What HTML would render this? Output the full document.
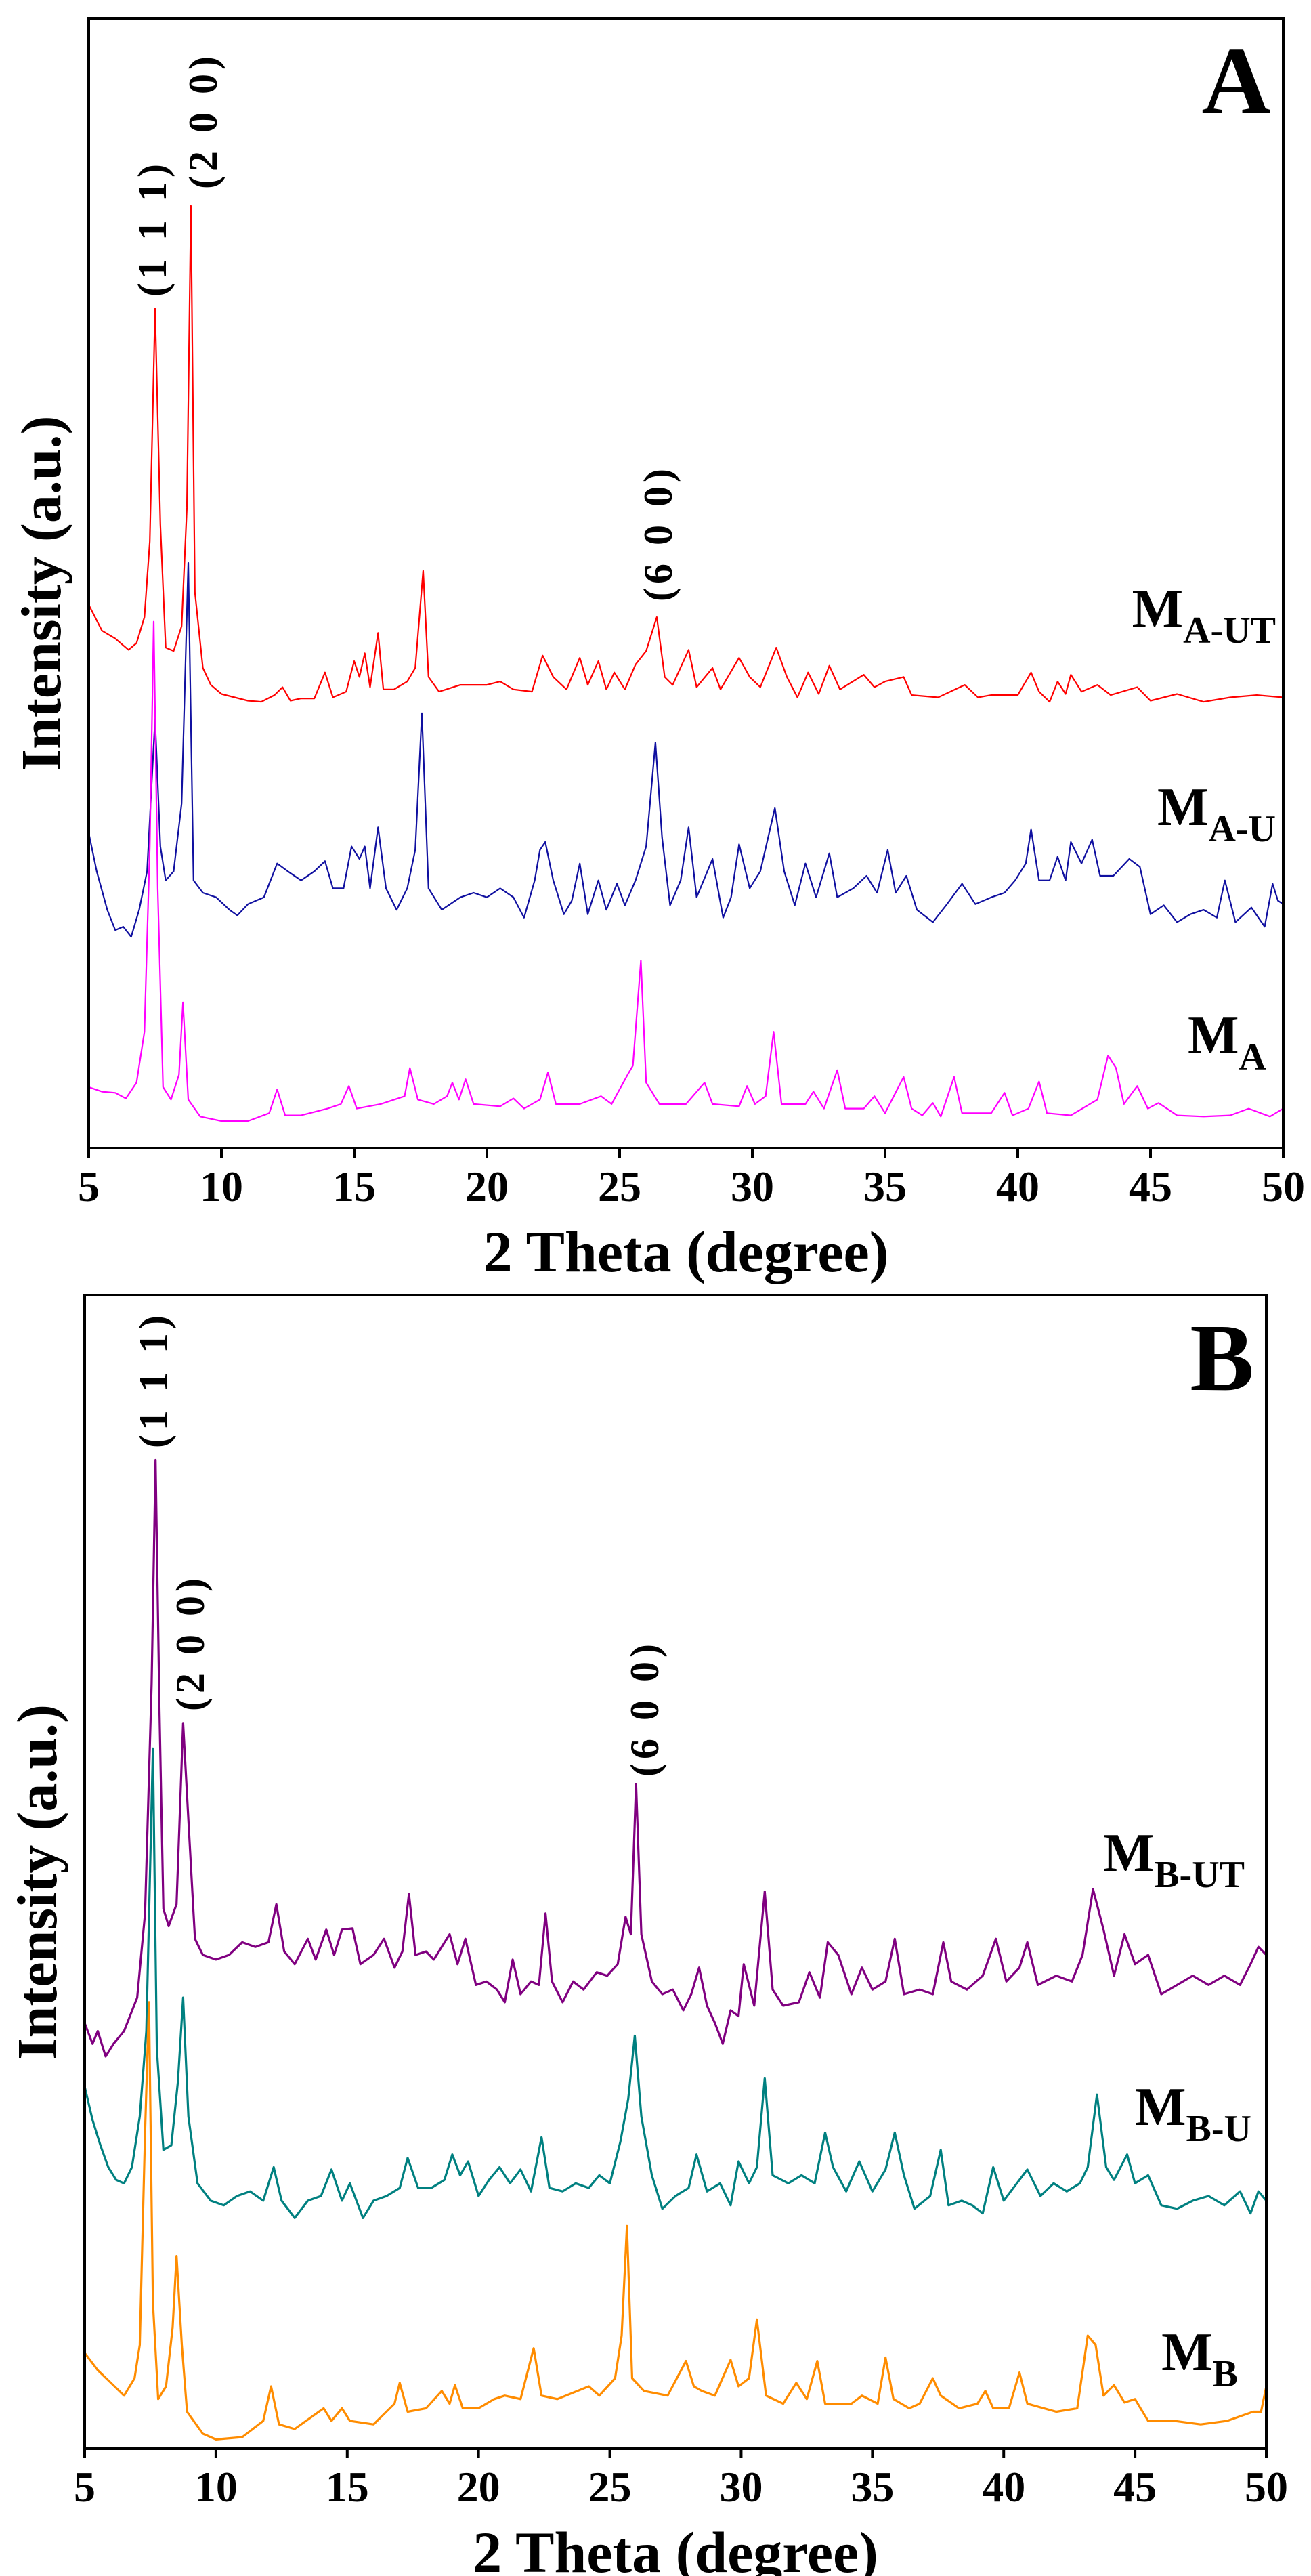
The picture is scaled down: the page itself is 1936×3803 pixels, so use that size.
<!DOCTYPE html>
<html><head><meta charset="utf-8"><style>
html,body{margin:0;padding:0;background:#fff}
svg{display:block}
text{font-family:"Liberation Serif",serif;font-weight:bold;fill:#000}
</style></head><body>
<svg id="chart" width="1936" height="3803" viewBox="0 0 1936 3803"></svg>
<script>
// ---- Data (2θ, relative intensity 0-100 of plot height) ----
const xTicks=[5,10,15,20,25,30,35,40,45,50];
const maUT_x=[5,5.5,6,6.5,6.8,7.1,7.3,7.5,7.7,7.9,8.2,8.5,8.7,8.85,9,9.3,9.6,10,10.5,11,11.5,12,12.3,12.6,13,13.5,13.9,14.2,14.7,15,15.2,15.4,15.6,15.9,16.1,16.5,17,17.3,17.6,17.8,18.2,19,20,20.5,21,21.7,22.1,22.5,23,23.5,23.8,24.2,24.5,24.8,25.2,25.6,26,26.4,26.7,27,27.6,27.9,28.5,28.8,29.5,29.9,30.3,30.9,31.3,31.7,32.1,32.5,32.9,33.3,34.2,34.6,35,35.7,36,37,38,38.5,39,40,40.5,40.8,41.2,41.5,41.8,42,42.4,43,43.5,44.5,45,46,47,48,49,50];
const maUT_y=[48.1,45.8,45.1,44.1,44.7,47,53.7,74.3,55.2,44.3,44,46.2,56.7,83.4,49.2,42.5,41,40.2,39.9,39.6,39.5,40.1,40.8,39.6,39.8,39.8,42.1,39.9,40.4,43.1,41.7,43.8,40.8,45.6,40.6,40.6,41.3,42.5,51.1,41.7,40.4,41,41,41.3,40.6,40.4,43.6,41.7,40.6,43.4,41,43.1,40.6,42.1,40.6,42.8,44,47,41.7,41,44.1,40.8,42.5,40.6,43.4,41.7,40.8,44.3,41.7,39.9,42.1,40.2,42.7,40.6,41.9,40.8,41.3,41.7,40.1,39.9,41,39.9,40.1,40.1,42.1,40.4,39.5,41.3,40.2,41.9,40.4,41,40.1,40.8,39.6,40.2,39.5,39.9,40.1,39.9];
const maU_x=[5,5.3,5.7,6,6.3,6.6,6.9,7.2,7.5,7.7,7.9,8.2,8.5,8.75,8.95,9.3,9.8,10.3,10.6,11,11.6,12.1,12.5,13,13.5,13.9,14.2,14.6,14.9,15.2,15.4,15.6,15.9,16.2,16.6,17,17.3,17.55,17.8,18.3,19,19.5,20,20.5,21,21.4,21.8,22,22.2,22.5,22.9,23.2,23.5,23.8,24.2,24.5,24.9,25.2,25.6,26,26.35,26.6,26.9,27.3,27.6,27.9,28.5,28.9,29.2,29.5,29.9,30.3,30.85,31.2,31.6,32,32.4,32.9,33.2,33.8,34.3,34.7,35.1,35.4,35.8,36.2,36.8,37.3,37.9,38.4,39,39.5,39.9,40.3,40.5,40.8,41.2,41.5,41.8,42,42.4,42.8,43.1,43.6,44.2,44.6,45,45.5,46,46.5,47,47.5,47.8,48.2,48.8,49.3,49.6,49.8,50];
const maU_y=[27.9,24.5,21.1,19.3,19.6,18.7,21.1,24.5,38,26.7,23.7,24.5,30.5,51.8,23.7,22.6,22.2,21.1,20.6,21.6,22.2,25.2,24.5,23.7,24.5,25.4,23,23,26.7,25.6,26.7,23,28.4,23,21.1,23,26.4,38.5,23,21.1,22.2,22.6,22.2,23,22.2,20.4,23.7,26.4,27.1,23.7,20.7,21.9,25.2,20.7,23.7,21.1,23.4,21.5,23.7,26.7,35.9,27.5,21.5,23.7,28.4,22.2,25.6,20.4,22.2,26.9,23,24.5,30.1,24.5,21.5,25.2,22.2,26.1,22.2,23,24.1,22.6,26.4,22.6,24.1,21.1,20,21.5,23.4,21.6,22.2,22.6,23.7,25.2,28.2,23.7,23.7,25.8,23.7,27.1,25.2,27.3,24.1,24.1,25.6,24.9,20.7,21.5,20,20.7,21.1,20.4,23.7,20,21.3,19.6,23.4,21.9,21.6];
const ma_x=[5,5.5,6,6.4,6.8,7.1,7.3,7.45,7.6,7.8,8.1,8.4,8.55,8.75,9.2,10,11,11.8,12.1,12.4,13,14,14.5,14.8,15.1,16,16.9,17.1,17.4,18,18.5,18.7,18.95,19.2,19.5,20.5,21,21.4,22,22.3,22.6,23.5,24.3,24.7,25.3,25.5,25.8,26,26.5,27.5,28.2,28.5,29.5,29.8,30.1,30.5,30.8,31.1,32,32.3,32.7,33.2,33.5,34.2,34.6,35,35.7,36,36.4,36.8,37.1,37.6,37.9,39,39.5,39.8,40.4,40.8,41.1,42,43,43.4,43.7,44,44.5,44.9,45.3,46,47,48,48.7,49.5,50];
const ma_y=[5.4,5,4.9,4.4,5.8,10.3,26.7,46.6,23,5.4,4.3,6.5,12.9,4.3,2.8,2.4,2.4,3.1,5.2,2.9,2.9,3.5,3.9,5.5,3.5,3.9,4.6,7.1,4.3,3.9,4.6,5.8,4.3,6.1,3.9,3.7,4.4,3.5,4.3,6.7,3.9,3.9,4.6,3.9,6.5,7.3,16.6,5.8,3.9,3.9,5.8,3.9,3.7,5.5,3.9,4.6,10.3,3.9,3.9,5,3.5,6.9,3.5,3.5,4.6,3.1,6.3,3.5,2.9,4,2.8,6.3,3.1,3.1,4.9,2.9,3.5,5.9,3.1,2.9,4.3,8.2,7.1,3.9,5.5,3.5,4,2.9,2.8,2.9,3.5,2.8,3.5];
const mbUT_x=[5,5.3,5.5,5.8,6.1,6.5,7,7.3,7.55,7.7,7.85,8,8.2,8.5,8.75,8.95,9.2,9.5,10,10.5,11,11.5,12,12.3,12.6,13,13.5,13.8,14.2,14.5,14.8,15.2,15.5,16,16.4,16.8,17.1,17.35,17.6,18,18.3,18.9,19.2,19.5,19.9,20.3,20.7,21,21.3,21.6,22,22.3,22.55,22.8,23.2,23.6,24,24.5,24.9,25.3,25.6,25.8,26,26.2,26.6,27,27.4,27.8,28.1,28.4,28.7,29,29.3,29.6,29.9,30.1,30.5,30.9,31.2,31.6,32.2,32.6,33,33.3,33.7,34.2,34.6,35,35.5,35.85,36.2,36.8,37.3,37.7,38,38.6,39.2,39.7,40.1,40.6,40.9,41.3,42,42.6,43,43.4,43.8,44.2,44.6,45,45.5,46,46.6,47.2,47.8,48.4,49,49.4,49.7,50];
const mbUT_y=[36.9,35.1,36.2,34,35.1,36.2,39.1,46.4,66.3,85.7,64,46.8,45.3,47.2,62.9,54.5,44.2,42.8,42.4,42.8,43.9,43.5,43.9,47.2,43.1,42,44.2,42.4,45,42.8,45,45.1,42,42.8,44.2,41.7,43.1,48.1,42.8,43.1,42.4,44.6,42,44.2,40.2,40.5,39.8,38.7,42.4,39.4,40.5,40.2,46.4,40.5,38.7,40.5,39.8,41.3,41,42,46.1,44.6,57.6,44.6,40.5,39.4,39.8,38,39.4,41.7,38.4,36.9,35.1,38,37.5,42,38.4,48.3,39.8,38.4,38.7,41.3,39.1,43.9,42.8,39.4,41.7,39.8,40.5,44.2,39.4,39.8,39.4,43.9,40.5,39.8,41,44.2,40.5,41.7,43.9,40.2,41,40.5,42.8,48.5,45,41,44.6,42,42.8,39.4,40.2,41,40.2,41,40.2,42,43.5,42.8];
const mbU_x=[5,5.3,5.6,5.9,6.2,6.5,6.8,7.1,7.35,7.6,7.75,8,8.3,8.55,8.75,8.95,9.3,9.8,10.3,10.8,11.3,11.8,12.2,12.5,13,13.5,14,14.4,14.8,15.1,15.6,16,16.5,17,17.3,17.7,18.2,18.7,19,19.3,19.6,20,20.4,20.8,21.2,21.6,22,22.4,22.7,23.2,23.7,24.2,24.6,25,25.4,25.7,25.95,26.2,26.6,27,27.5,28,28.3,28.7,29.2,29.6,29.9,30.3,30.6,30.9,31.2,31.8,32.3,32.8,33.2,33.5,34,34.5,35,35.5,35.85,36.2,36.6,37.2,37.6,37.9,38.4,38.8,39.2,39.6,40,40.5,40.9,41.4,41.9,42.4,42.9,43.2,43.55,43.9,44.2,44.7,45,45.5,46,46.6,47.2,47.8,48.4,49,49.4,49.7,50];
const mbU_y=[31.4,28.5,26.3,24.4,23.3,23,24.4,28.8,36.2,60.7,34.7,25.9,26.3,31.8,39.1,28.8,23,21.5,21.1,21.9,22.3,21.5,24.4,21.5,20,21.5,21.9,24.2,21.5,23,20,21.5,21.9,22.6,25.2,22.6,22.6,23.3,25.5,23.7,24.9,21.9,23.3,24.4,23,24.2,22.3,27,22.6,22.3,23,22.6,23.7,23,26.6,30.3,35.8,28.8,23.7,20.8,21.9,22.6,25.5,22.3,23,21.1,24.9,23,24.4,32.1,23.7,23,23.7,23,27.4,24.4,22.3,24.9,22.3,24.2,27.4,23.7,20.8,21.9,25.9,21.1,21.5,21.1,20.4,24.4,21.5,23,24.2,21.9,23,22.3,23,24.4,30.7,24.4,23.3,25.5,23,23.7,21.1,20.8,21.5,21.9,21.1,22.3,20.4,22.3,21.5];
const mb_x=[5,5.5,6,6.5,6.9,7.1,7.3,7.45,7.6,7.8,8.1,8.35,8.5,8.7,8.9,9.5,10,11,11.8,12.1,12.4,13,14.1,14.4,14.8,15.1,16,16.8,17,17.3,18,18.6,18.9,19.1,19.4,20,20.6,21,21.6,22.1,22.4,23,24.2,24.6,25.2,25.45,25.65,25.85,26.3,27.2,27.9,28.2,28.5,29,29.6,29.9,30.3,30.6,30.95,31.6,32.1,32.5,32.9,33.2,34.2,34.6,35.2,35.5,35.8,36.4,36.8,37.3,37.6,38.3,39,39.3,39.6,40.2,40.6,40.9,42,42.8,43.2,43.5,43.8,44.2,44.6,45,45.5,46.5,47.5,48.5,49.5,49.8,50];
const mb_y=[8.3,6.8,5.7,4.6,6.1,9,27.4,38.7,12.7,4.3,5.4,10.5,16.7,9,3.2,1.3,0.8,1,2.4,5.4,2.1,1.7,3.5,2.4,3.5,2.4,2.1,3.9,5.7,3.2,3.5,5,3.9,5.5,3.5,3.5,4.3,4.6,4.3,8.7,4.6,4.3,5.4,4.6,6.1,9.8,19.3,6.1,5,4.6,7.6,5.4,5,4.6,7.7,5.4,6.1,11.2,4.6,3.9,5.7,4.3,7.6,3.9,3.9,4.6,3.9,7.9,4.3,3.5,3.9,6.1,4.6,3.5,3.9,5,3.5,3.5,6.6,3.9,3.2,3.5,9.8,9,4.6,5.5,4,4.3,2.4,2.4,2.1,2.4,3.2,3.2,5.4];

const NS='http://www.w3.org/2000/svg';
const svg=document.getElementById('chart');
function mk(tag,attrs,parent){const e=document.createElementNS(NS,tag);for(const k in attrs)e.setAttribute(k,attrs[k]);(parent||svg).appendChild(e);return e;}

function panel(p){
  const g=mk('g',{});
  
  
  const sx=v=>p.L+(v-5)/45*(p.R-p.L);
  const sy=v=>p.B-v/100*(p.B-p.T);
  p.series.forEach(s=>{
    let d='';
    for(let i=0;i<s.x.length;i++)d+=(i?'L':'M')+sx(s.x[i]).toFixed(1)+' '+sy(s.y[i]).toFixed(1);
    const path=mk('path',{d:d,fill:'none',stroke:s.color,'stroke-width':p.lw,'stroke-linejoin':'round'},g);
    
    
  });
  const frame=mk('rect',{x:p.L,y:p.T,width:p.R-p.L,height:p.B-p.T,fill:'none',stroke:'#000','stroke-width':4},g);
  
  
  xTicks.forEach(t=>{
    const tk=mk('line',{x1:sx(t),x2:sx(t),y1:p.B,y2:p.B+14,stroke:'#000','stroke-width':4},g);
    
    
    const lb=mk('text',{x:sx(t),y:p.B+78,'text-anchor':'middle','font-size':64},g);
    lb.textContent=t;
    
    
  });
  const xt=mk('text',{x:(p.L+p.R)/2,y:p.B+182,'text-anchor':'middle','font-size':86},g);
  xt.textContent='2 Theta (degree)';
  
  
  const yc=(p.T+p.B)/2;
  const yt=mk('text',{x:0,y:0,'text-anchor':'middle','font-size':84,transform:`translate(${p.L-42},${yc+15}) rotate(-90)`},g);
  yt.textContent='Intensity (a.u.)';
  
  
  const pl=mk('text',{x:p.R-18,y:p.T+140,'text-anchor':'end','font-size':142},g);
  pl.textContent=p.letter;
  
  
  p.names.forEach(n=>{
    const t=mk('text',{x:n.x,y:n.y,'text-anchor':'end','font-size':80},g);
    const a=mk('tspan',{},t);a.textContent='M';
    const b=mk('tspan',{'font-size':56,dy:24},t);b.textContent=n.sub;
    
    
  });
  p.peaks.forEach(k=>{
    const t=mk('text',{x:0,y:0,'text-anchor':'middle','font-size':60,'letter-spacing':6,transform:`translate(${k.x+20},${k.y}) rotate(-90)`},g);
    t.textContent=k.t;
    
    
  });
}

panel({name:'panel-a',letter:'A',L:131,R:1895,T:27,B:1695,lw:2.2,
  series:[{id:'series-ma-ut',x:maUT_x,y:maUT_y,color:'#ff0000'},{id:'series-ma-u',x:maU_x,y:maU_y,color:'#1010a0'},{id:'series-ma',x:ma_x,y:ma_y,color:'#ff00ff'}],
  names:[{x:1884,y:925,sub:'A-UT'},{x:1884,y:1218,sub:'A-U'},{x:1870,y:1555,sub:'A'}],
  peaks:[{x:225,y:337,t:'(1 1 1)'},{x:300,y:178,t:'(2 0 0)'},{x:972,y:787,t:'(6 0 0)'}]});
panel({name:'panel-b',letter:'B',L:125,R:1870,T:1912,B:3615,lw:3.2,
  series:[{id:'series-mb-ut',x:mbUT_x,y:mbUT_y,color:'#800080'},{id:'series-mb-u',x:mbU_x,y:mbU_y,color:'#008080'},{id:'series-mb',x:mb_x,y:mb_y,color:'#ff8c00'}],
  names:[{x:1838,y:2762,sub:'B-UT'},{x:1848,y:3137,sub:'B-U'},{x:1828,y:3499,sub:'B'}],
  peaks:[{x:227,y:2037,t:'(1 1 1)'},{x:281,y:2425,t:'(2 0 0)'},{x:952,y:2522,t:'(6 0 0)'}]});
</script>
</body></html>
